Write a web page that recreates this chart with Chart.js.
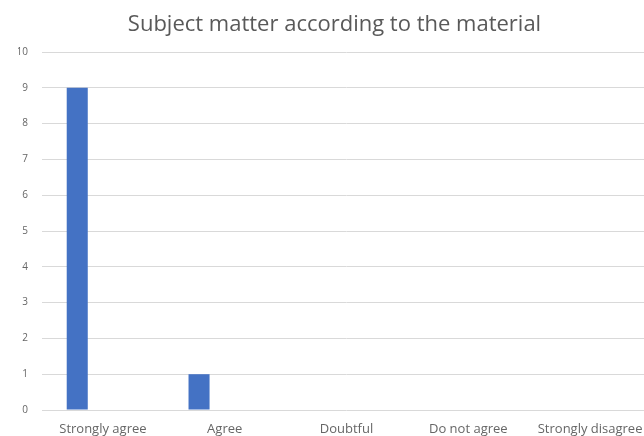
<!DOCTYPE html>
<html>
<head>
<meta charset="utf-8">
<script src="https://cdn.jsdelivr.net/npm/chart.js@4"></script>
<style>
  body { margin: 0; overflow: hidden; background: #fff; }
  #wrap { width: 656px; height: 436px; }
</style>
</head>
<body>
<div id="wrap"><canvas id="myChart"></canvas></div>
<script>
const categories = ["Strongly agree", "Agree", "Doubtful", "Do not agree", "Strongly disagree"];
const series1 = [9, 1, 0, 0, 0];
const series2 = [0, 0, 0, 0, 0];
const series3 = [0, 0, 0, 0, 0];
const yTicks = [0, 1, 2, 3, 4, 5, 6, 7, 8, 9, 10];

const ctx = document.getElementById("myChart");

const data = {
    labels: categories,
    datasets: [
        { label: "Series1", data: series1, backgroundColor: "#4472c4" },
        { label: "Series2", data: series2, backgroundColor: "#ed7d31" },
        { label: "Series3", data: series3, backgroundColor: "#a5a5a5" }
    ]
};

const config = {
    type: "bar",
    data: data,
    options: {
        responsive: true,
        maintainAspectRatio: false,
        animation: false,
        layout: { padding: { left: 18, right: 5, top: 0, bottom: 0 } },
        datasets: {
            bar: { categoryPercentage: 0.632, barPercentage: 0.82 }
        },
        plugins: {
            legend: { display: false },
            tooltip: { enabled: false },
            title: {
                display: true,
                text: "Subject matter according to the material",
                color: "#595959",
                font: { family: "'Open Sans', sans-serif", size: 22, weight: "normal" },
                padding: { top: 12, bottom: 13.6 }
            }
        },
        scales: {
            x: {
                afterFit: scale => { scale.height = 26; },
                grid: { display: false, drawTicks: false },
                border: { display: false },
                ticks: {
                    color: "#666666",
                    font: { family: "'Open Sans', sans-serif", size: 13 },
                    padding: 11,
                    maxRotation: 0,
                    autoSkip: false
                }
            },
            y: {
                min: 0,
                max: 10,
                afterBuildTicks: scale => { scale.ticks = yTicks.map(v => ({ value: v })); },
                afterFit: scale => { scale.width = 24; },
                grid: { color: "#d9d9d9", drawTicks: false },
                border: { display: false },
                ticks: {
                    color: "#666666",
                    font: { family: "'Open Sans', sans-serif", size: 10 },
                    padding: 14
                }
            }
        }
    }
};

new Chart(ctx, config);
</script>
</body>
</html>
